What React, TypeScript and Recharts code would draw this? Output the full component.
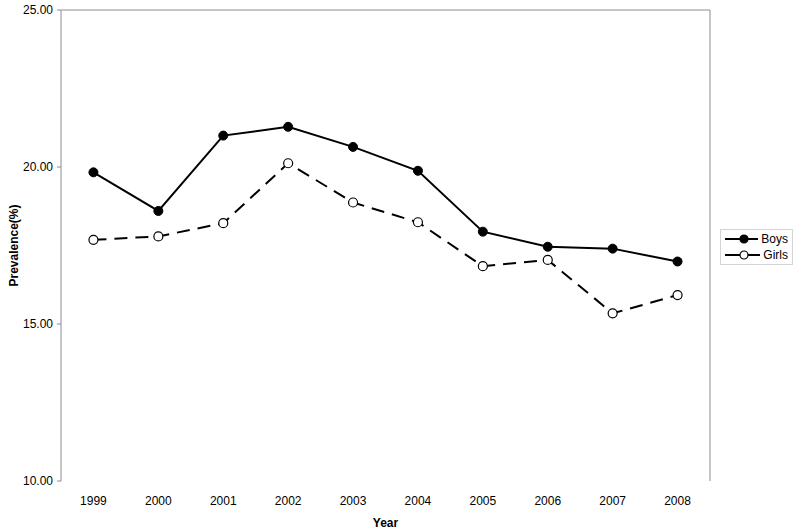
import { LineChart, Line, XAxis, YAxis, ReferenceLine } from "recharts";

const years = [1999, 2000, 2001, 2002, 2003, 2004, 2005, 2006, 2007, 2008];
const boys = [19.83, 18.6, 21.0, 21.28, 20.64, 19.88, 17.94, 17.46, 17.4, 16.99];
const girls = [17.68, 17.79, 18.21, 20.12, 18.87, 18.24, 16.84, 17.04, 15.34, 15.92];
const yTicks = [10, 15, 20, 25];
const bandEdges = [1998.5, 1999.5, 2000.5, 2001.5, 2002.5, 2003.5, 2004.5, 2005.5, 2006.5, 2007.5, 2008.5];

const data = years.map((year, i) => ({ year, boys: boys[i], girls: girls[i] }));

const axisColor = "#8c8c8c";
const font = "Arial, 'Liberation Sans', sans-serif";

function LegendBox() {
  const items = [
    { name: "Boys", fill: "#000" },
    { name: "Girls", fill: "#fff" },
  ];
  return (
    <div
      style={{
        position: "absolute",
        left: 720,
        top: 229,
        width: 63,
        border: "1px solid #d4d4d4",
        padding: "1px 4px",
        fontFamily: font,
        fontSize: 12,
        color: "#000",
        background: "#fff",
      }}
    >
      {items.map((it) => (
        <div key={it.name} style={{ display: "flex", alignItems: "center", height: 16 }}>
          <svg width={38} height={12}>
            <line x1={0} y1={6} x2={38} y2={6} stroke="#000" strokeWidth={2} />
            <circle cx={19} cy={6} r={4} fill={it.fill} stroke="#000" strokeWidth={1.2} />
          </svg>
          <span style={{ marginLeft: 3 }}>{it.name}</span>
        </div>
      ))}
    </div>
  );
}

export default function App() {
  return (
    <div style={{ position: "absolute", left: 0, top: 0, width: 800, height: 530, background: "#fff" }}>
      <LineChart width={800} height={530} data={data} margin={{ top: 10, right: 90, bottom: 0, left: 0 }}>
        <XAxis
          xAxisId="edges"
          dataKey="year"
          type="number"
          domain={[1998.5, 2008.5]}
          ticks={bandEdges}
          interval={0}
          tick={() => <g />}
          height={0}
          stroke={axisColor}
          tickSize={4}
        />
        <XAxis
          dataKey="year"
          type="number"
          domain={[1998.5, 2008.5]}
          ticks={years}
          interval={0}
          axisLine={false}
          tickLine={false}
          tickMargin={9}
          height={49}
          tick={{ fill: "#000", fontSize: 12, fontFamily: font }}
          label={{ value: "Year", position: "insideBottom", offset: 3, style: { fontWeight: "bold", fontSize: 12, fontFamily: font, fill: "#000" } }}
        />
        <YAxis
          domain={[10, 25]}
          ticks={yTicks}
          tickFormatter={(v: number) => v.toFixed(2)}
          width={61}
          stroke={axisColor}
          tickSize={4}
          tickMargin={4}
          tick={{ fill: "#000", fontSize: 12, fontFamily: font }}
          label={{ value: "Prevalence(%)", angle: -90, position: "insideLeft", offset: 14, style: { textAnchor: "middle", fontWeight: "bold", fontSize: 12, fontFamily: font, fill: "#000" } }}
        />
        <ReferenceLine y={25} stroke={axisColor} strokeWidth={1} />
        <ReferenceLine x={2008.5} stroke={axisColor} strokeWidth={1} />
        <Line
          dataKey="boys"
          name="Boys"
          stroke="#000"
          strokeWidth={2}
          dot={{ r: 4.5, fill: "#000", stroke: "#000", strokeWidth: 1 }}
          isAnimationActive={false}
        />
        <Line
          dataKey="girls"
          name="Girls"
          stroke="#000"
          strokeWidth={2}
          strokeDasharray="13 8"
          dot={{ r: 4.5, fill: "#fff", stroke: "#000", strokeWidth: 1.2, strokeDasharray: "0" }}
          isAnimationActive={false}
        />
      </LineChart>
      <LegendBox />
    </div>
  );
}
